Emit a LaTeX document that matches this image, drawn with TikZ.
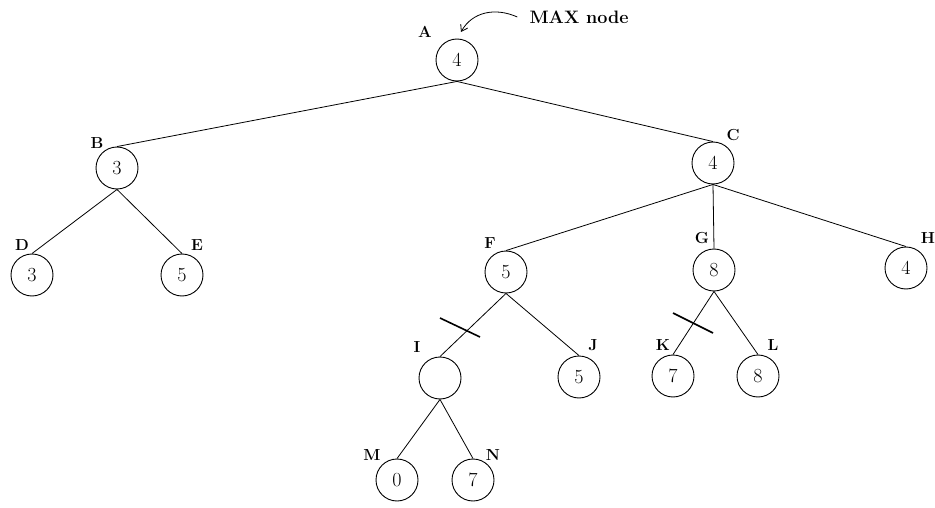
\documentclass[tikz,border=0pt]{standalone}
\usepackage{tikz}
\usetikzlibrary{arrows.meta}

\begin{document}
\begin{tikzpicture}[x=1pt,y=-1pt,
    state/.style={circle,draw=black,line width=0.9pt,minimum size=42pt,inner sep=0pt,font=\fontsize{20}{22}\selectfont},
    tag/.style={inner sep=0pt,font=\fontsize{16}{18}\selectfont\bfseries},
    edge/.style={line width=0.8pt},
    cut/.style={line width=1.6pt}]
  \useasboundingbox (0,0) rectangle (935,508);

  % tree nodes with their letters
  \foreach \n/\x/\y/\v/\lx/\ly in {A/457/60/4/425/32, B/117/168/3/97/143, C/713/163/4/733/135,
      D/32/275/3/22/245, E/182/275/5/197/245, F/506/272/5/490/243, G/714/270/8/702/238,
      H/906/268/4/928/238, I/440/378//417/347, J/579/377/5/593/345, K/673/376/7/663/345,
      L/758/376/8/773/345, M/397/480/0/372/455, N/473/480/7/493/455} {
    \node[state] (\n) at (\x,\y) {\v};
    \node[tag] (t\n) at (\lx,\ly) {\n};
  }

  % branches
  \foreach \p/\c in {A/B,A/C,B/D,B/E,C/F,C/G,C/H,F/I,F/J,G/K,G/L,I/M,I/N}
    \draw[edge] (\p.south) -- (\c.north);

  % pruned branches
  \draw[cut] (440,318) -- (480,337);
  \draw[cut] (673,313) -- (713,333);

  % max label
  \node[inner sep=0pt,font=\fontsize{18}{20}\selectfont\bfseries] (max) at (579,17) {MAX node};
  \coordinate (tip) at (461,32);
  \draw[edge,-{Straight Barb[length=6pt,width=8pt]}] ([xshift=-12pt]max.west)
    .. controls (495,7) and (472,12) .. (tip);
\end{tikzpicture}
\end{document}
